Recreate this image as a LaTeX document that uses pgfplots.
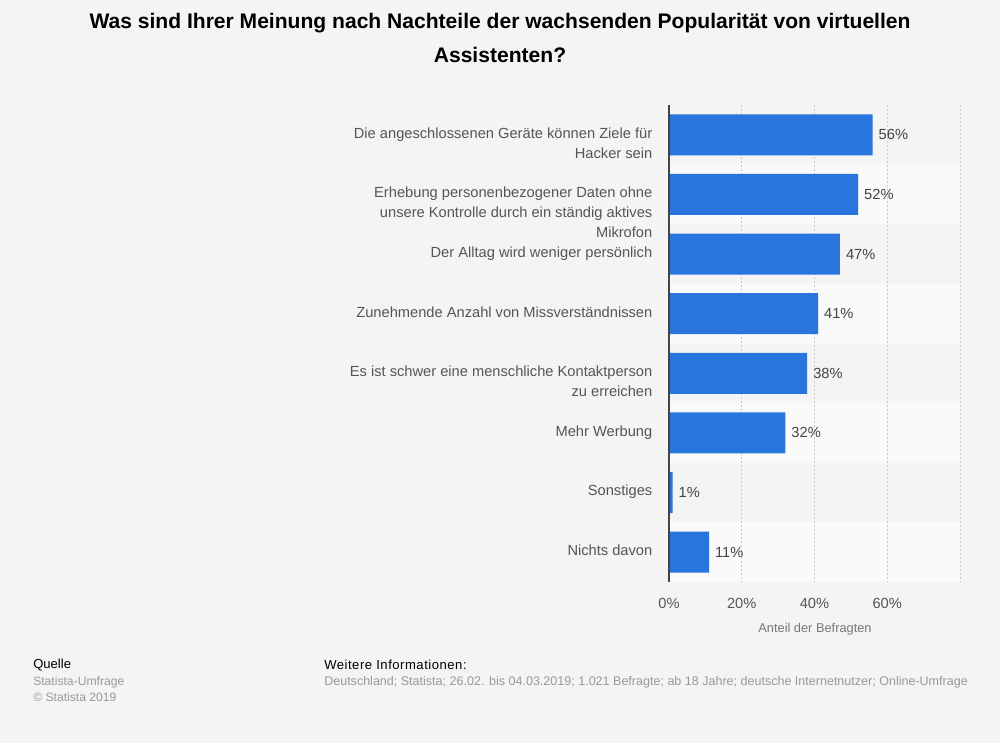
\documentclass[border=0pt]{standalone}
\usepackage{pgfplots}
\pgfplotsset{compat=1.18}
\usepackage{fontspec}
\setmainfont{Liberation Sans}
\definecolor{bg}{HTML}{F4F4F4}
\definecolor{stripe}{HTML}{FAFAFA}
\definecolor{barblue}{HTML}{2876DD}
\definecolor{lab}{HTML}{555555}
\definecolor{gridc}{HTML}{C8C8C8}
\definecolor{axc}{HTML}{444444}
\definecolor{foot}{HTML}{999999}
\begin{document}
\begin{tikzpicture}
\begin{scope}[x=0.75pt,y=-0.75pt]
\fill[bg] (0,0) rectangle (1000,743);
\foreach \k in {1,3,5,7} {
  \fill[stripe] (669,{105+\k*59.625}) rectangle (960,{105+(\k+1)*59.625});
}
\end{scope}
\begin{axis}[
  at={(501.75pt,-78.75pt)}, anchor=north west,
  scale only axis, width=218.25pt, height=357.75pt,
  xbar, bar width=30.75pt,
  xmin=0, xmax=80, ymin=-0.5, ymax=7.5,
  y dir=reverse,
  ytick={0,1,2,3,4,5,6,7},
  yticklabels={
    {Die angeschlossenen Geräte können Ziele für\\Hacker sein},
    {Erhebung personenbezogener Daten ohne\\unsere Kontrolle durch ein ständig aktives\\Mikrofon},
    {Der Alltag wird weniger persönlich},
    {Zunehmende Anzahl von Missverständnissen},
    {Es ist schwer eine menschliche Kontaktperson\\zu erreichen},
    {Mehr Werbung},
    {Sonstiges},
    {Nichts davon}},
  yticklabel style={align=right, anchor=north east, font=\fontsize{11}{15}\selectfont, text=lab, xshift=-9pt, yshift=9pt},
  xtick={0,20,40,60,80},
  xticklabels={0\%,20\%,40\%,60\%,},
  xticklabel style={font=\fontsize{11}{13}\selectfont, text=lab, yshift=-9pt},
  major tick length=0pt,
  xmajorgrids,
  grid style={gridc, line width=0.75pt, dash pattern=on 1.5pt off 1.5pt},
  axis line style={draw=none},
  /pgf/number format/assume math mode=true,
  point meta=x,
  nodes near coords={\pgfmathprintnumber{\pgfplotspointmeta}\%},
  nodes near coords style={font=\fontsize{11}{13}\selectfont, text=axc, anchor=west, xshift=1pt},
  clip=false,
]
\addplot[fill=barblue, draw=none] coordinates {
  (56,0) (52,1) (47,2) (41,3) (38,4) (32,5) (1,6) (11,7)};
\draw[axc, line width=1.5pt] (axis cs:0,-0.5) -- (axis cs:0,7.5);
\end{axis}
\begin{scope}[x=0.75pt,y=-0.75pt]
\node[font=\fontsize{15.8}{19}\selectfont\bfseries, text=black] at (500,23) {Was sind Ihrer Meinung nach Nachteile der wachsenden Popularität von virtuellen};
\node[font=\fontsize{15.8}{19}\selectfont\bfseries, text=black] at (500,55) {Assistenten?};
\node[font=\fontsize{9.6}{11}\selectfont, text=lab!80] at (815,629) {Anteil der Befragten};
\node[font=\fontsize{9.8}{11}\selectfont, text=black, anchor=west, inner sep=0pt] at (33,665) {Quelle};
\node[font=\fontsize{9.1}{11}\selectfont, text=foot, anchor=west, inner sep=0pt] at (33,682) {Statista-Umfrage};
\node[font=\fontsize{9.1}{11}\selectfont, text=foot, anchor=west, inner sep=0pt] at (33,697) {© Statista 2019};
\node[font=\fontsize{9.8}{11}\selectfont, text=black, anchor=west, inner sep=0pt] at (324,665) {\addfontfeature{LetterSpace=4}Weitere Informationen:};
\node[font=\fontsize{9.4}{11}\selectfont, text=foot, anchor=west, inner sep=0pt] at (324,682) {Deutschland; Statista; 26.02. bis 04.03.2019; 1.021 Befragte; ab 18 Jahre; deutsche Internetnutzer; Online-Umfrage};
\end{scope}
\end{tikzpicture}
\end{document}
